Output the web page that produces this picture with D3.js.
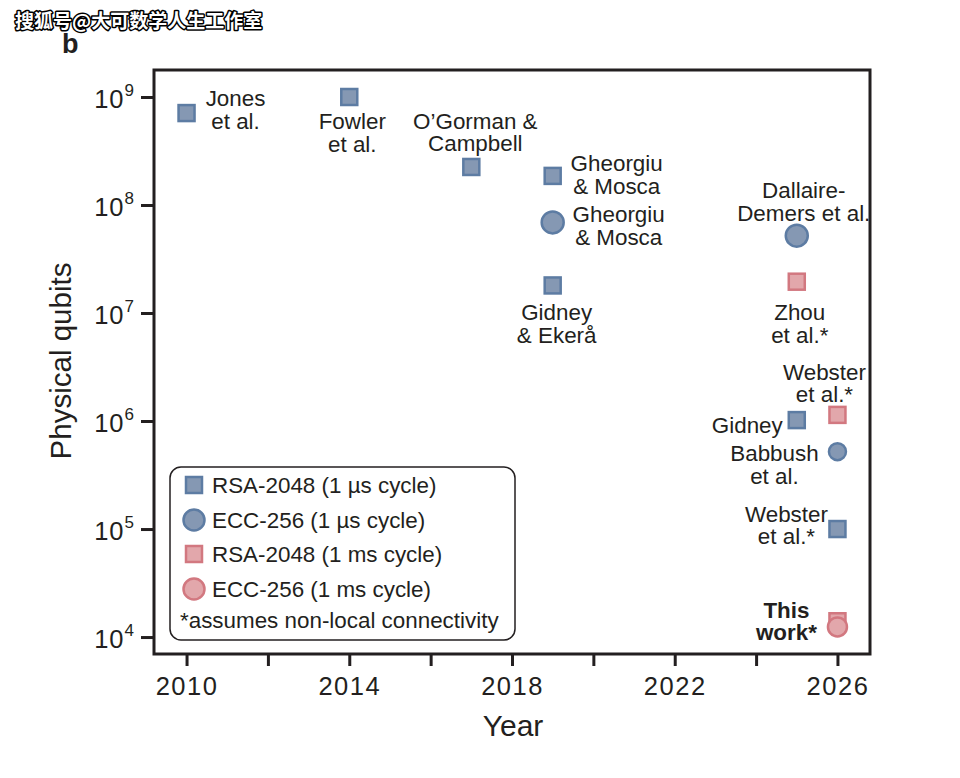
<!DOCTYPE html>
<html><head><meta charset="utf-8">
<script src="https://cdn.jsdelivr.net/npm/d3@7"></script>
<style>
html,body{margin:0;padding:0;background:#fff;}
svg{display:block;font-family:"Liberation Sans",Arial,Helvetica,sans-serif;}
</style></head>
<body>
<svg id="chart" width="960" height="778"></svg>
<script>
// ---- data ----
const names = ["Jones et al.","Fowler et al.","O'Gorman & Campbell","Gheorgiu & Mosca","Gheorgiu & Mosca","Gidney & Ekerå","Dallaire-Demers et al.","Zhou et al.*","Webster et al.*","Gidney","Babbush et al.","Webster et al.*","This work*","This work*"];
const labelLines = [["Jones","et al."],["Fowler","et al."],["O\u2019Gorman &","Campbell"],["Gheorgiu","& Mosca"],["Gheorgiu","& Mosca"],["Gidney","& Ekerå"],["Dallaire-","Demers et al."],["Zhou","et al.*"],["Webster","et al.*"],["Gidney"],["Babbush","et al."],["Webster","et al.*"],["This","work*"],[]];
const years = [2010,2014,2017,2019,2019,2019,2025,2025,2026,2025,2026,2026,2026,2026];
const qubits = [7.1e8,1.0e9,2.25e8,1.86e8,6.9e7,1.8e7,5.2e7,1.95e7,1.14e6,1.02e6,5.2e5,1.0e5,1.4e4,1.24e4];
const series = ["rsa_us","rsa_us","rsa_us","rsa_us","ecc_us","rsa_us","ecc_us","rsa_ms","rsa_ms","rsa_us","ecc_us","rsa_us","rsa_ms","ecc_ms"];
const seriesKeys = ["rsa_us","ecc_us","rsa_ms","ecc_ms"];
const seriesLabels = ["RSA-2048 (1 \u00b5s cycle)","ECC-256 (1 \u00b5s cycle)","RSA-2048 (1 ms cycle)","ECC-256 (1 ms cycle)"];
const footnote = "*assumes non-local connectivity";
const xTicks = [2010,2012,2014,2016,2018,2020,2022,2024,2026];
const xTickLabels = ["2010","","2014","","2018","","2022","","2026"];
const yTicks = [1e4,1e5,1e6,1e7,1e8,1e9];
const yTickExponents = ["4","5","6","7","8","9"];
const xTitle = "Year", yTitle = "Physical qubits", panelLabel = "b";
const watermark = "搜狐号@大可数学人生工作室";

// ---- layout / style (not data) ----
const labelLayout = [
  {dx:49,dy:[-7,16],anchor:"middle"},
  {dx:3,dy:[32,55],anchor:"middle"},
  {dx:4,dy:[-38,-16],anchor:"middle"},
  {dx:64,dy:[-5,18],anchor:"middle"},
  {dx:66,dy:[0,23],anchor:"middle"},
  {dx:4,dy:[35,58],anchor:"middle"},
  {dx:7,dy:[-38,-15],anchor:"middle"},
  {dx:3,dy:[38,61],anchor:"middle"},
  {dx:-13,dy:[-35,-13],anchor:"middle"},
  {dx:-14,dy:[13],anchor:"end"},
  {dx:-63,dy:[9,32],anchor:"middle"},
  {dx:-51,dy:[-7,15],anchor:"middle"},
  {dx:-51,dy:[-3,19],anchor:"middle",bold:true},
  null
];
const circleR = [0,0,0,0,11,0,11,0,0,0,8.5,0,0,9.5];
const style = {
  rsa_us:{shape:"square",fill:"#8598b3",stroke:"#5d7ca3"},
  ecc_us:{shape:"circle",fill:"#8598b3",stroke:"#5d7ca3"},
  rsa_ms:{shape:"square",fill:"#e2a7ab",stroke:"#d27880"},
  ecc_ms:{shape:"circle",fill:"#e2a7ab",stroke:"#d27880"}
};
const textColor = "#231f20";
const L=154, R=870, T=70, B=654;
const labelFont = 22.4;

const svg = d3.select("#chart");
const x = d3.scaleLinear().domain([2009.2,2026.8]).range([L,R]);
const y = d3.scaleLog().domain([Math.pow(10,3.843),Math.pow(10,9.25)]).range([B,T]);

// watermark
svg.append("text").attr("x",15).attr("y",28).text(watermark)
  .attr("font-family","'Noto Sans CJK SC',sans-serif").attr("font-size",19).attr("font-weight","bold")
  .attr("fill","#fff").attr("stroke","#000").attr("stroke-width",3).attr("paint-order","stroke")
  .attr("stroke-linejoin","round");
svg.append("text").attr("x",62).attr("y",53).text(panelLabel)
  .attr("font-size",27).attr("font-weight","bold").attr("fill",textColor);

// axes
const xAxis = svg.append("g").attr("transform",`translate(0,${B})`)
  .call(d3.axisBottom(x).tickValues(xTicks).tickSize(12).tickSizeOuter(0).tickFormat((d,i)=>xTickLabels[i]));
xAxis.select(".domain").remove();
xAxis.selectAll(".tick line").attr("stroke",textColor).attr("stroke-width",3);
xAxis.selectAll(".tick text").attr("font-size",25.5).attr("letter-spacing",1.5).attr("fill",textColor)
  .attr("y",41).attr("dy",0).attr("font-family","'Liberation Sans',Arial,sans-serif");

const yAxis = svg.append("g").attr("transform",`translate(${L},0)`)
  .call(d3.axisLeft(y).tickValues(yTicks).tickSize(13).tickSizeOuter(0).tickFormat(""));
yAxis.select(".domain").remove();
yAxis.selectAll(".tick line").attr("stroke",textColor).attr("stroke-width",3);
yAxis.selectAll(".tick").each(function(d,i){
  const t = d3.select(this).append("text").attr("x",-20).attr("y",10).attr("text-anchor","end")
    .attr("fill",textColor).attr("font-size",25.5);
  t.append("tspan").text("10").attr("letter-spacing",1);
  t.append("tspan").text(yTickExponents[i]).attr("font-size",17).attr("dy",-12).attr("dx",0);
});

// frame
svg.append("rect").attr("x",L).attr("y",T).attr("width",R-L).attr("height",B-T)
  .attr("fill","none").attr("stroke",textColor).attr("stroke-width",3);

// titles
svg.append("text").attr("x",513).attr("y",736).attr("text-anchor","middle")
  .attr("font-size",30).attr("fill",textColor).text(xTitle);
svg.append("text").attr("transform",`translate(71,361) rotate(-90)`).attr("text-anchor","middle")
  .attr("font-size",29.5).attr("fill",textColor).text(yTitle);

function drawMarker(g, key, cx, cy, r){
  const s = style[key];
  if(s.shape==="square"){
    g.append("rect").attr("x",cx-8).attr("y",cy-8).attr("width",16).attr("height",16)
      .attr("fill",s.fill).attr("stroke",s.stroke).attr("stroke-width",2.5);
  } else {
    g.append("circle").attr("cx",cx).attr("cy",cy).attr("r",r)
      .attr("fill",s.fill).attr("stroke",s.stroke).attr("stroke-width",2.5);
  }
}

// points
const pts = svg.append("g");
years.forEach((yr,i)=>{
  drawMarker(pts, series[i], x(yr), y(qubits[i]), circleR[i]);
});

// labels
const lab = svg.append("g").attr("fill",textColor).attr("font-size",labelFont);
years.forEach((yr,i)=>{
  const lay = labelLayout[i]; if(!lay) return;
  labelLines[i].forEach((line,j)=>{
    lab.append("text").attr("x",x(yr)+lay.dx).attr("y",y(qubits[i])+lay.dy[j])
      .attr("text-anchor",lay.anchor).attr("font-weight",lay.bold?"bold":"normal").text(line);
  });
});

// legend
const lg = svg.append("g");
lg.append("rect").attr("x",170).attr("y",467).attr("width",345).attr("height",173).attr("rx",11)
  .attr("fill","#fff").attr("stroke",textColor).attr("stroke-width",1.5);
const rowY = [485,520,554,589];
seriesKeys.forEach((k,i)=>{
  drawMarker(lg,k,194,rowY[i],10.5);
  lg.append("text").attr("x",212).attr("y",rowY[i]+8).attr("font-size",labelFont).attr("fill",textColor).text(seriesLabels[i]);
});
lg.append("text").attr("x",180).attr("y",628).attr("font-size",labelFont).attr("fill",textColor).text(footnote);
</script>
</body></html>
